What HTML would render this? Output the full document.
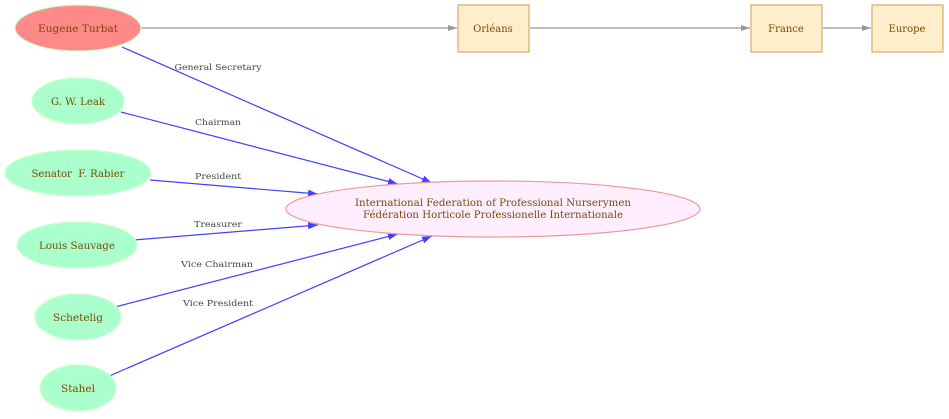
<!DOCTYPE html>
<html><head><meta charset="utf-8"><style>body{margin:0;background:#fff}svg{display:block}</style></head><body>
<svg width="949" height="419" viewBox="0 0 949 419" xmlns="http://www.w3.org/2000/svg" font-family="'DejaVu Serif', serif">
<defs>
<marker id="b" markerWidth="10" markerHeight="7" refX="10" refY="3.5" orient="auto" markerUnits="userSpaceOnUse"><path d="M0,0 L10,3.5 L0,7z" fill="#4040ff"/></marker>
<marker id="g" markerWidth="9" markerHeight="6" refX="9" refY="3" orient="auto" markerUnits="userSpaceOnUse"><path d="M0,0 L9,3 L0,6z" fill="#999"/></marker>
</defs>
<g stroke="#999" stroke-width="1.2" fill="none">
<line x1="141" y1="28" x2="457" y2="28" marker-end="url(#g)"/>
<line x1="530" y1="28" x2="750" y2="28" marker-end="url(#g)"/>
<line x1="823" y1="28" x2="871" y2="28" marker-end="url(#g)"/>
</g>
<g stroke="#4040ff" stroke-width="1.2" fill="none">
<line x1="122" y1="47" x2="432" y2="183" marker-end="url(#b)"/>
<line x1="121" y1="112" x2="398" y2="184" marker-end="url(#b)"/>
<line x1="150" y1="180" x2="318" y2="194" marker-end="url(#b)"/>
<line x1="134" y1="240" x2="318" y2="225" marker-end="url(#b)"/>
<line x1="115" y1="307" x2="398" y2="234" marker-end="url(#b)"/>
<line x1="107" y1="377" x2="432" y2="236" marker-end="url(#b)"/>
</g>
<g font-size="8" fill="#444" text-anchor="middle">
<text x="218" y="70" textLength="87" lengthAdjust="spacingAndGlyphs">General Secretary</text>
<text x="218" y="125" textLength="46" lengthAdjust="spacingAndGlyphs">Chairman</text>
<text x="218" y="179" textLength="46" lengthAdjust="spacingAndGlyphs">President</text>
<text x="218" y="227" textLength="48" lengthAdjust="spacingAndGlyphs">Treasurer</text>
<text x="217" y="267" textLength="72" lengthAdjust="spacingAndGlyphs">Vice Chairman</text>
<text x="218" y="306" textLength="70" lengthAdjust="spacingAndGlyphs">Vice President</text>
</g>
<g stroke="#ccffcc" stroke-width="1.2">
<ellipse cx="78" cy="28" rx="63" ry="23" fill="#ff8888"/>
<ellipse cx="78" cy="101" rx="46" ry="23" fill="#aaffcc"/>
<ellipse cx="78" cy="173" rx="73" ry="23" fill="#aaffcc"/>
<ellipse cx="77" cy="245" rx="60" ry="23" fill="#aaffcc"/>
<ellipse cx="78" cy="317" rx="43" ry="23" fill="#aaffcc"/>
<ellipse cx="78" cy="388" rx="38" ry="23" fill="#aaffcc"/>
</g>
<ellipse cx="493" cy="209" rx="207" ry="28" fill="#ffeeff" stroke="#ee9999" stroke-width="1.2"/>
<g fill="#ffeecc" stroke="#ddaa66" stroke-width="1.2">
<rect x="458" y="5" width="71" height="47"/>
<rect x="751" y="5" width="71" height="47"/>
<rect x="872" y="5" width="71" height="47"/>
</g>
<g font-size="10" fill="#7a4a00" text-anchor="middle">
<text x="78" y="32" textLength="80" lengthAdjust="spacingAndGlyphs">Eugene Turbat</text>
<text x="78" y="105" textLength="54" lengthAdjust="spacingAndGlyphs">G. W. Leak</text>
<text x="78" y="177" textLength="93" lengthAdjust="spacingAndGlyphs">Senator&#160; F. Rabier</text>
<text x="77" y="249" textLength="76" lengthAdjust="spacingAndGlyphs">Louis Sauvage</text>
<text x="78" y="321" textLength="50" lengthAdjust="spacingAndGlyphs">Schetelig</text>
<text x="78" y="392" textLength="34" lengthAdjust="spacingAndGlyphs">Stahel</text>
<text x="493" y="206" textLength="276" lengthAdjust="spacingAndGlyphs">International Federation of Professional Nurserymen</text>
<text x="493" y="218" textLength="260" lengthAdjust="spacingAndGlyphs">Fédération Horticole Professionelle Internationale</text>
<text x="493" y="32">Orléans</text>
<text x="786" y="32">France</text>
<text x="907" y="32">Europe</text>
</g>
</svg>
</body></html>
